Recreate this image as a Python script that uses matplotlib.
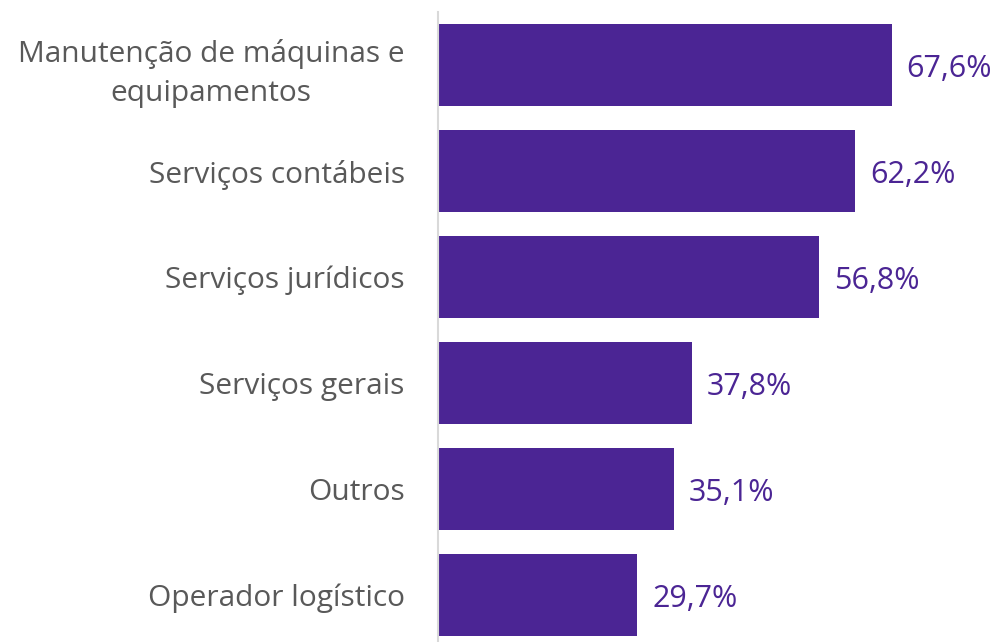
import matplotlib.pyplot as plt

plt.rcParams['font.family'] = ['Open Sans', 'DejaVu Sans']

categories = ['Manutenção de máquinas e\nequipamentos', 'Serviços contábeis',
              'Serviços jurídicos', 'Serviços gerais', 'Outros', 'Operador logístico']
values = [67.6, 62.2, 56.8, 37.8, 35.1, 29.7]
value_labels = ['67,6%', '62,2%', '56,8%', '37,8%', '35,1%', '29,7%']

bar_color = '#4B2594'
text_color = '#595959'

fig = plt.figure(figsize=(10.01, 6.42), dpi=100)
ax = fig.add_axes([438 / 1001, -6 / 642, 557 / 1001, 636 / 642])

pos = list(range(len(values)))
ax.barh(pos, values, height=0.765, color=bar_color)
for p, v, lab in zip(pos, values, value_labels):
    ax.text(v + 2.2, p + 0.04, lab, va='center', ha='left',
            fontsize=22, color=bar_color)

ax.set_ylim(len(values) - 0.5, -0.5)
ax.set_xlim(0, 83)
ax.set_yticks(pos)
ax.set_yticklabels(categories, fontsize=21.5, color=text_color,
                   multialignment='center', linespacing=1.45)
ax.tick_params(axis='y', length=0, pad=24)
ax.set_xticks([])
for s in ['top', 'right', 'bottom']:
    ax.spines[s].set_visible(False)
ax.spines['left'].set_color('#D9D9D9')
ax.spines['left'].set_linewidth(1.5)

fig.savefig('out.png', dpi=100)
